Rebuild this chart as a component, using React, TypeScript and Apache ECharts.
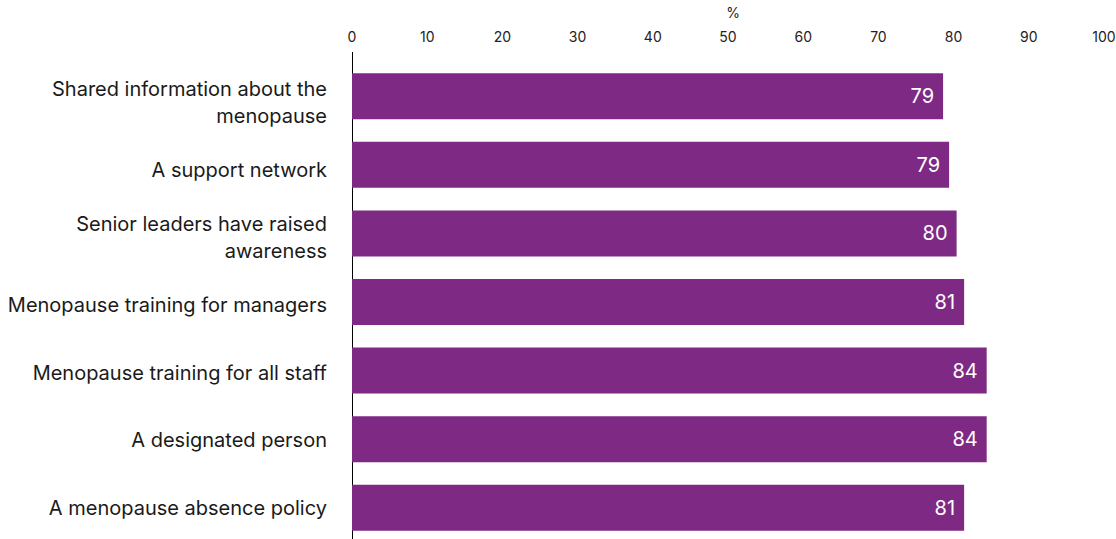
import React, { useEffect, useRef } from "react";
import * as echarts from "echarts";

const categories = [
  "Shared information about the\nmenopause",
  "A support network",
  "Senior leaders have raised\nawareness",
  "Menopause training for managers",
  "Menopause training for all staff",
  "A designated person",
  "A menopause absence policy",
];
const values = [78.6, 79.4, 80.4, 81.4, 84.4, 84.4, 81.4];
const xTicks = { min: 0, max: 100, interval: 10 };

export default function App() {
  const ref = useRef<HTMLDivElement>(null);
  useEffect(() => {
    document.body.style.margin = "0";
    const chart = echarts.init(ref.current!, null, { renderer: "svg" });
    const font = "Inter, 'Noto Sans', sans-serif";
    chart.setOption({
      animation: false,
      textStyle: { fontFamily: font },
      grid: [
        {
          left: 352,
          right: 12,
          top: 62,
          height: 480,
          containLabel: false,
          outerBoundsMode: "none",
        },
        {
          left: 352,
          right: 12,
          top: 68.7,
          height: 473,
          containLabel: false,
          outerBoundsMode: "none",
        },
      ],
      xAxis: [
        {
          type: "value",
          gridIndex: 0,
          position: "top",
          min: xTicks.min,
          max: xTicks.max,
          interval: xTicks.interval,
          name: "%",
          nameLocation: "middle",
          nameGap: 43,
          nameTextStyle: { color: "#222", fontSize: 14, fontFamily: font, padding: [0, 0, 0, 10] },
          axisLine: { show: false },
          axisTick: { show: false },
          splitLine: { show: false },
          axisLabel: { color: "#222", fontSize: 14, margin: 19, fontFamily: font },
        },
        {
          type: "value",
          gridIndex: 1,
          min: xTicks.min,
          max: xTicks.max,
          show: false,
        },
      ],
      yAxis: [
        {
          type: "category",
          gridIndex: 0,
          data: categories,
          inverse: true,
          axisLine: { show: true, lineStyle: { color: "#000", width: 1 } },
          axisTick: { show: false },
          axisLabel: { show: false },
        },
        {
          type: "category",
          gridIndex: 1,
          data: categories,
          inverse: true,
          axisLine: { show: false },
          axisTick: { show: false },
          splitLine: { show: false },
          axisLabel: {
            color: "#1a1a1a",
            fontSize: 20,
            lineHeight: 27,
            margin: 25,
            align: "right",
            fontFamily: font,
          },
        },
      ],
      graphic: [
        {
          type: "line",
          shape: { x1: 352.5, y1: 52, x2: 352.5, y2: 62 },
          style: { stroke: "#000", lineWidth: 1 },
        },
      ],
      series: [
        {
          type: "bar",
          xAxisIndex: 0,
          yAxisIndex: 0,
          data: values,
          barWidth: 46,
          itemStyle: { color: "#7E2A84" },
          label: {
            show: true,
            position: "insideRight",
            distance: 9,
            color: "#fff",
            fontSize: 20,
            fontFamily: font,
            formatter: (p: any) => String(Math.round(p.value)),
          },
        },
      ],
    });
    return () => chart.dispose();
  }, []);
  return <div ref={ref} style={{ width: 1116, height: 539 }} />;
}
